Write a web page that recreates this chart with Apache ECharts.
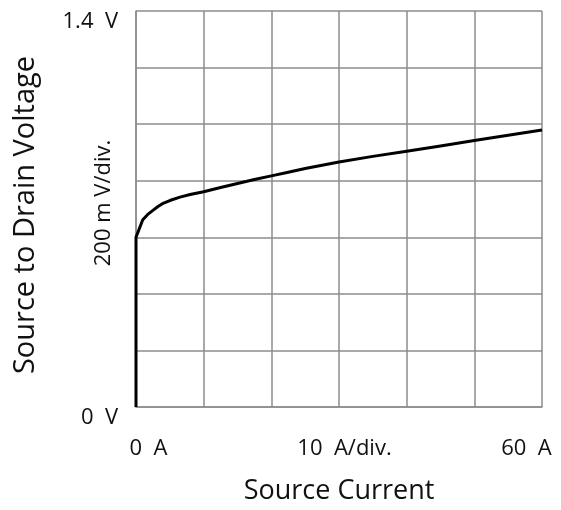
<!DOCTYPE html>
<html>
<head>
<meta charset="utf-8">
<script src="https://cdn.jsdelivr.net/npm/echarts@6/dist/echarts.min.js"></script>
<style>
  html, body { margin: 0; padding: 0; background: #fff; }
  #main { width: 561px; height: 510px; }
</style>
</head>
<body>
<div id="main"></div>
<script>
// source current (A) and source-to-drain voltage (V)
var current = [0, 0, 1, 1.7, 2.5, 3.2, 4, 5, 6.5, 8, 10, 12.5, 15, 17.5, 20, 22.5, 25, 27.5, 30, 35, 40, 45, 50, 55, 60];
var voltage = [0, 0.6, 0.662, 0.68, 0.695, 0.708, 0.72, 0.73, 0.742, 0.751, 0.761, 0.776, 0.79, 0.804, 0.817, 0.83, 0.843, 0.855, 0.866, 0.886, 0.904, 0.923, 0.942, 0.961, 0.979];

// tick labels shown on the axes
var xTickLabels = { 0: '0  A', 30: '10  A/div.', 60: '60  A' };
var yTickLabels = { 0: '0  V', 1.4: '1.4  V' };

var chartDom = document.getElementById('main');
var myChart = echarts.init(chartDom);
var option;

var font = '"Open Sans", sans-serif';
var gridColor = '#8c8c8c';

var pts = [];
for (var i = 0; i < current.length; i++) {
  pts.push([current[i], voltage[i]]);
}

option = {
  backgroundColor: '#fff',
  animation: false,
  grid: { left: 136, right: 19, top: 11, bottom: 100 },
  xAxis: {
    type: 'value',
    min: 0, max: 60, interval: 10,
    name: 'Source Current',
    nameLocation: 'middle',
    nameGap: 71,
    nameTextStyle: { fontFamily: font, fontSize: 27, color: '#111' },
    axisLine: { show: true, lineStyle: { color: gridColor, width: 1.5 } },
    axisTick: { show: false },
    splitLine: { show: true, lineStyle: { color: gridColor, width: 1.5 } },
    axisLabel: {
      margin: 31,
      fontFamily: font, fontSize: 22, color: '#111',
      formatter: function (v) {
        if (v === 0) return '{l|' + xTickLabels[0] + '}';
        if (v === 60) return '{r|' + xTickLabels[60] + '}';
        if (v === 30) return '{m|' + xTickLabels[30] + '}';
        return '';
      },
      rich: {
        l: { fontFamily: font, fontSize: 22, color: '#111', padding: [0, 0, 0, 25] },
        m: { fontFamily: font, fontSize: 22, color: '#111', padding: [0, 0, 0, 11] },
        r: { fontFamily: font, fontSize: 22, color: '#111', padding: [0, 31, 0, 0] }
      }
    }
  },
  yAxis: [
    {
      type: 'value',
      min: 0, max: 1.4, interval: 0.2,
      name: 'Source to Drain Voltage',
      nameLocation: 'middle',
      nameGap: 96,
      nameTextStyle: { fontFamily: font, fontSize: 29, color: '#111', padding: [0, 12, 0, 0] },
      axisLine: { show: true, lineStyle: { color: gridColor, width: 1.5 } },
      axisTick: { show: false },
      splitLine: { show: true, lineStyle: { color: gridColor, width: 1.5 } },
      axisLabel: {
        margin: 18,
        fontFamily: font, fontSize: 22, color: '#111',
        verticalAlign: 'top',
        formatter: function (v) {
          var k = Math.round(v * 10) / 10;
          return yTickLabels[k] || '';
        }
      }
    },
    {
      type: 'value',
      position: 'left',
      min: 0, max: 1.4,
      name: '200 m V/div.',
      nameLocation: 'middle',
      nameGap: 21,
      nameTextStyle: { fontFamily: font, fontSize: 22, color: '#111', padding: [0, 0, 0, 12] },
      axisLine: { show: false },
      axisTick: { show: false },
      axisLabel: { show: false },
      splitLine: { show: false }
    }
  ],
  series: [
    {
      type: 'line',
      data: pts,
      showSymbol: false,
      lineStyle: { color: '#000', width: 3, join: 'round' },
      clip: false
    }
  ]
};

option && myChart.setOption(option);
</script>
</body>
</html>
